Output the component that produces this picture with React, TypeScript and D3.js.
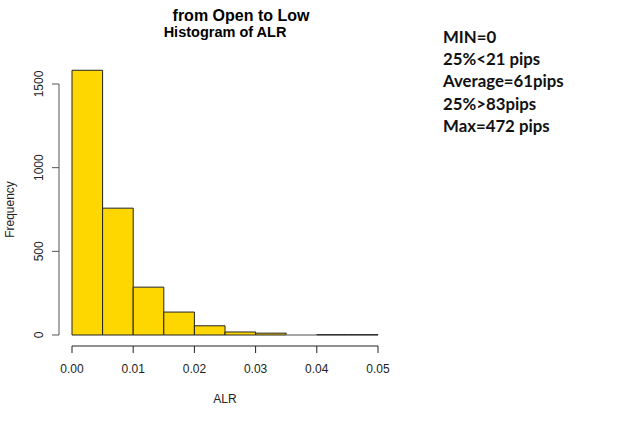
import React from "react";
import * as d3 from "d3";

const binStarts = [0, 0.005, 0.01, 0.015, 0.02, 0.025, 0.03, 0.035, 0.04, 0.045];
const binWidth = 0.005;
const counts = [1582, 758, 286, 137, 55, 18, 11, 0, 2, 2];
const xTicks = [0, 0.01, 0.02, 0.03, 0.04, 0.05];
const yTicks = [0, 500, 1000, 1500];
const statLines = ["MIN=0", "25%<21 pips", "Average=61pips", "25%>83pips", "Max=472 pips"];

export default function App() {
  const W = 625, H = 421;
  const x = d3.scaleLinear().domain([0, 0.05]).range([72, 378]);
  const y = d3.scaleLinear().domain([0, 1500]).range([335, 84]);
  const axisFont = "'Liberation Sans', Arial, sans-serif";
  const barPath = (b: number, c: number) => {
    const p = d3.path();
    p.moveTo(x(b), y(0));
    p.lineTo(x(b), y(c));
    p.lineTo(x(b + binWidth), y(c));
    p.lineTo(x(b + binWidth), y(0));
    p.closePath();
    return p.toString();
  };
  return (
    <svg width={W} height={H} style={{ position: "absolute", left: 0, top: 0, background: "#fff" }}>
      <rect width={W} height={H} fill="#fff" />
      <text x={241} y={21} textAnchor="middle" fontFamily={axisFont} fontWeight="bold" fontSize={16}>from Open to Low</text>
      <text x={225} y={37} textAnchor="middle" fontFamily={axisFont} fontWeight="bold" fontSize={14.5}>Histogram of ALR</text>
      {binStarts.map((b, i) => (
        <path key={i} d={barPath(b, counts[i])}
          fill="#FFD700" stroke={counts[i] === 0 ? "#888" : "#222"} strokeWidth={1} />
      ))}
      {/* x axis */}
      <line x1={x(0)} x2={x(0.05)} y1={346} y2={346} stroke="#222" />
      {xTicks.map((t) => (
        <g key={t}>
          <line x1={x(t)} x2={x(t)} y1={346} y2={353} stroke="#222" />
          <text x={x(t)} y={373} textAnchor="middle" fontFamily={axisFont} fontSize={12} fill="#222">{t.toFixed(2)}</text>
        </g>
      ))}
      <text x={225} y={403} textAnchor="middle" fontFamily={axisFont} fontSize={12} fill="#222">ALR</text>
      {/* y axis */}
      <line x1={59} x2={59} y1={y(0)} y2={y(1500)} stroke="#555" />
      {yTicks.map((t) => (
        <g key={t}>
          <line x1={52} x2={59} y1={y(t)} y2={y(t)} stroke="#555" />
          <text transform={`translate(43,${y(t)}) rotate(-90)`} textAnchor="middle" fontFamily={axisFont} fontSize={12} fill="#222">{t}</text>
        </g>
      ))}
      <text transform={`translate(14,${(y(0) + y(1500)) / 2}) rotate(-90)`} textAnchor="middle" fontFamily={axisFont} fontSize={12} fill="#222">Frequency</text>
      {statLines.map((s, i) => (
        <text key={i} x={443} y={43 + i * 22.2} fontFamily="Lato, 'Open Sans', sans-serif" fontWeight="bold" fontSize={16.8} fill="#111">{s}</text>
      ))}
    </svg>
  );
}
